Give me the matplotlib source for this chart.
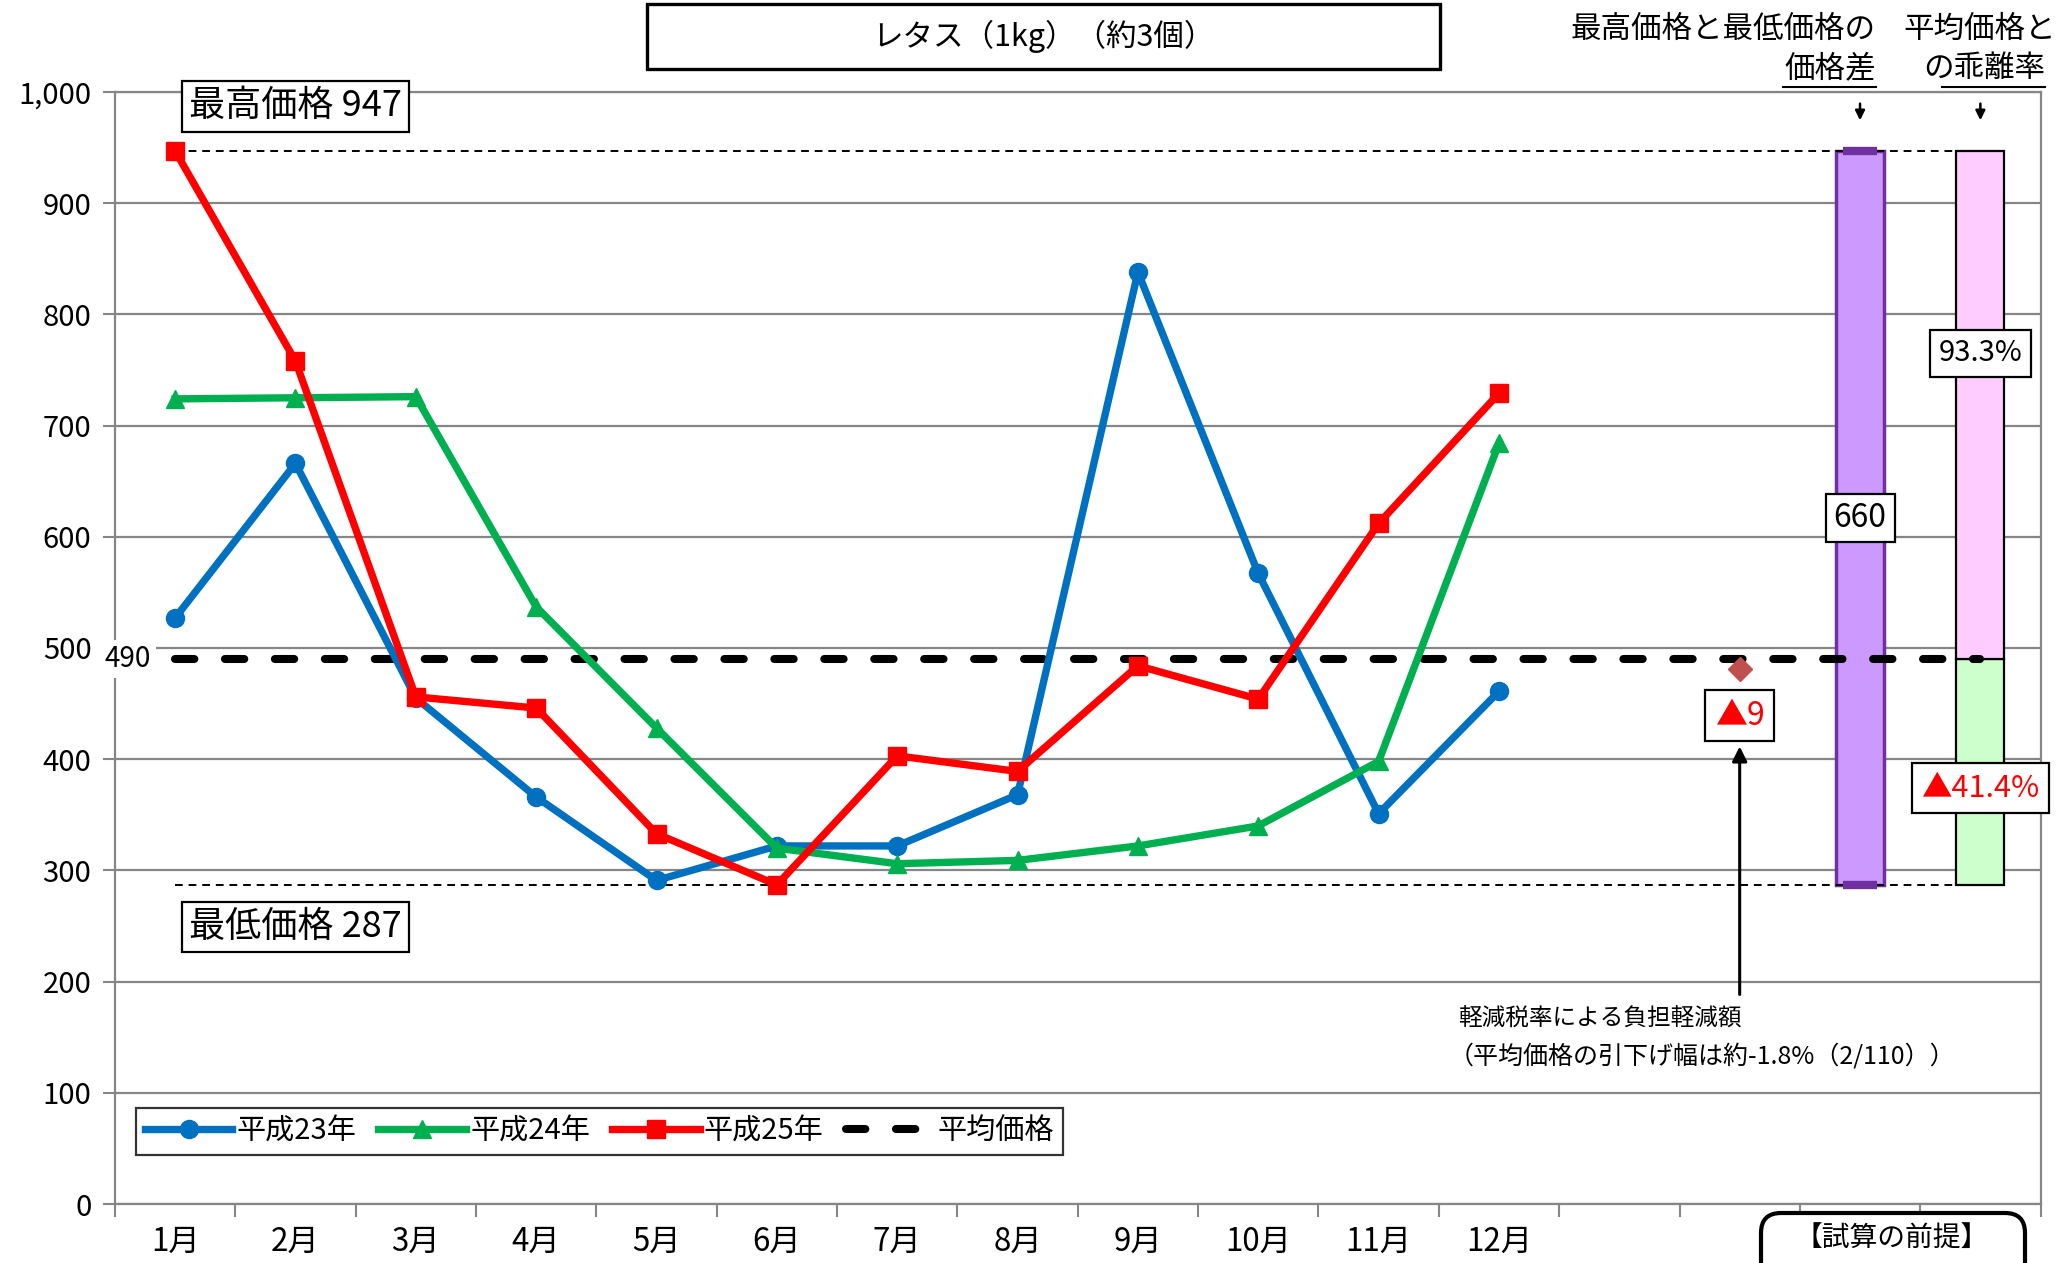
import numpy as np
import matplotlib
matplotlib.use("Agg")
import matplotlib.pyplot as plt
from matplotlib.patches import Rectangle, FancyBboxPatch
from matplotlib.lines import Line2D
from matplotlib.ticker import FuncFormatter

plt.rcParams['font.family'] = ['Noto Sans CJK JP', 'DejaVu Sans']

# --- data ------------------------------------------------------------------
months = ["1月", "2月", "3月", "4月", "5月", "6月",
          "7月", "8月", "9月", "10月", "11月", "12月"]
h23 = [527, 666, 455, 366, 291, 322, 322, 368, 838, 567, 351, 461]
h24 = [724, 725, 726, 537, 428, 320, 306, 309, 322, 340, 398, 684]
h25 = [947, 758, 456, 446, 333, 287, 403, 389, 484, 454, 612, 729]
series_labels = ["平成23年", "平成24年", "平成25年"]
avg_label = "平均価格"

avg_price = 490
max_price = 947
min_price = 287
price_gap = 660          # max - min
reduced_avg = 481        # average after reduced tax rate
reduction_text = "▲9"
dev_high_text = "93.3%"
dev_low_text = "▲41.4%"

N_CAT = 16               # 12 months + 4 helper categories
X_DIAMOND, X_GAP, X_DEV = 13, 14, 15

BLUE, GREEN, RED = "#0070C0", "#00B050", "#FF0000"
GRID = "#868686"

fig = plt.figure(figsize=(20.71, 12.63), dpi=100)
ax = fig.add_axes([0.0555, 0.0467, 0.9298, 0.8805])

x = np.arange(len(months))
ax.plot(x, h23, color=BLUE, lw=5.3, marker="o", ms=13, label=series_labels[0], zorder=5)
ax.plot(x, h24, color=GREEN, lw=5.3, marker="^", ms=13.5, label=series_labels[1], zorder=5.2)
ax.plot(x, h25, color=RED, lw=5.3, marker="s", ms=12.5, label=series_labels[2], zorder=5.4)
ax.plot([0, X_DEV], [avg_price, avg_price], color="black", lw=5.8, dashes=(2.4, 3.8),
        dash_capstyle="round", label=avg_label, zorder=4)

# max / min reference lines
for v in (max_price, min_price):
    ax.plot([0, X_DEV], [v, v], color="black", lw=1.4, dashes=(4, 3), zorder=3.5)

# price gap bar
ax.bar(X_GAP, price_gap, bottom=min_price, width=0.4, color="#CC99FF",
       edgecolor="#7030A0", lw=2.5, zorder=2)
for v in (max_price, min_price):
    ax.plot([X_GAP - 0.14, X_GAP + 0.14], [v, v], color="#7030A0", lw=6,
            solid_capstyle="butt", zorder=3.6)

# deviation bar (below / above average)
ax.bar(X_DEV, avg_price - min_price, bottom=min_price, width=0.4, color="#CCFFCC",
       edgecolor="black", lw=1.6, zorder=2)
ax.bar(X_DEV, max_price - avg_price, bottom=avg_price, width=0.4, color="#FFCCFF",
       edgecolor="black", lw=1.6, zorder=2)

# reduced-rate marker
ax.plot(X_DIAMOND, reduced_avg, marker="D", ms=12, color="#C0504D", zorder=6)
ax.annotate("", xy=(X_DIAMOND, 414), xytext=(X_DIAMOND, 186),
            arrowprops=dict(arrowstyle="-|>", color="black", lw=2.2, mutation_scale=22),
            zorder=6)

box = dict(boxstyle="square,pad=0.2", fc="white", ec="black", lw=1.6)
ax.text(1.0, 987, f"最高価格 {max_price}", fontsize=26, ha="center", va="center",
        bbox=box, zorder=8)
ax.text(1.0, 249, f"最低価格 {min_price}", fontsize=26, ha="center", va="center",
        bbox=box, zorder=8)
ax.text(-0.39, avg_price, str(avg_price), fontsize=20, ha="center", va="center",
        bbox=dict(boxstyle="square,pad=0.15", fc="white", ec="none"), zorder=8)
ax.text(X_GAP, 617, str(price_gap), fontsize=23, ha="center", va="center",
        bbox=dict(boxstyle="square,pad=0.25", fc="white", ec="black", lw=1.6), zorder=8)
ax.text(X_DEV, 765, dev_high_text, fontsize=21, ha="center", va="center",
        bbox=dict(boxstyle="square,pad=0.3", fc="white", ec="black", lw=1.6), zorder=8)
ax.text(X_DEV, 374, dev_low_text, fontsize=22, ha="center", va="center", color=RED,
        bbox=dict(boxstyle="square,pad=0.3", fc="white", ec="black", lw=1.6), zorder=8)
ax.text(X_DIAMOND, 439, reduction_text, fontsize=23, ha="center", va="center", color=RED,
        bbox=dict(boxstyle="square,pad=0.3", fc="white", ec="black", lw=1.6), zorder=8)

ax.text(10.66, 166, "軽減税率による負担軽減額", fontsize=17, ha="left", va="center")
ax.text(10.58, 133, "（平均価格の引下げ幅は約-1.8%（2/110））", fontsize=18,
        ha="left", va="center")

# small arrows under the column headers
for xc in (X_GAP, X_DEV):
    ax.annotate("", xy=(xc, 972), xytext=(xc, 992), annotation_clip=False,
                arrowprops=dict(arrowstyle="-|>", color="black", lw=1.8, mutation_scale=14))

# axes styling
ax.set_xlim(-0.5, N_CAT - 0.5)
ax.set_ylim(0, 1000)
ax.set_xticks(x)
ax.set_xticklabels(months, fontsize=22.5)
ax.set_xticks(np.arange(-0.5, N_CAT, 1), minor=True)
ax.tick_params(axis="x", which="major", length=0, pad=16)
ax.tick_params(axis="x", which="minor", length=9, width=1.5, color=GRID)
ax.set_yticks(np.arange(0, 1001, 100))
ax.yaxis.set_major_formatter(FuncFormatter(lambda v, p: f"{int(v):,}"))
ax.tick_params(axis="y", length=9, width=1.5, color=GRID, pad=8, labelsize=21)
ax.grid(axis="y", color=GRID, lw=1.6)
ax.set_axisbelow(True)
for s in ax.spines.values():
    s.set_color(GRID)
    s.set_linewidth(1.6)

leg = ax.legend(loc="lower left", bbox_to_anchor=(0.011, 0.044), ncol=4, fontsize=21,
                frameon=True, fancybox=False, edgecolor="black", handlelength=3.0,
                handletextpad=0.15, columnspacing=0.75, borderpad=0.3, borderaxespad=0)
leg.get_frame().set_linewidth(1.6)

# title box
fig.text(0.504, 0.9715, "レタス（1kg）（約3個）", fontsize=22, ha="center", va="center")
fig.add_artist(Rectangle((0.3124, 0.9454), 0.383, 0.0515, transform=fig.transFigure,
                         fill=False, ec="black", lw=2.4))

# column headers top-right
fig.text(0.9058, 0.977, "最高価格と最低価格の", fontsize=22, ha="right", va="center")
fig.text(0.9058, 0.9454, "価格差", fontsize=22, ha="right", va="center")
fig.text(0.956, 0.977, "平均価格と", fontsize=22, ha="center", va="center")
fig.text(0.9875, 0.9454, "の乖離率", fontsize=22, ha="right", va="center")
fig.add_artist(Line2D([0.861, 0.9058], [0.931, 0.931], transform=fig.transFigure,
                      color="black", lw=1.5))
fig.add_artist(Line2D([0.9377, 0.9875], [0.931, 0.931], transform=fig.transFigure,
                      color="black", lw=1.5))

# cut-off note box at bottom right
fig.add_artist(FancyBboxPatch((17.61, -0.6), 2.64, 1.1,
                              boxstyle="round,pad=0,rounding_size=0.2",
                              transform=fig.dpi_scale_trans, fc="white", ec="black", lw=3))
fig.text(0.9136, 0.019, "【試算の前提】", fontsize=20, ha="center", va="center")

fig.savefig("out.png", dpi=100, facecolor="white")
